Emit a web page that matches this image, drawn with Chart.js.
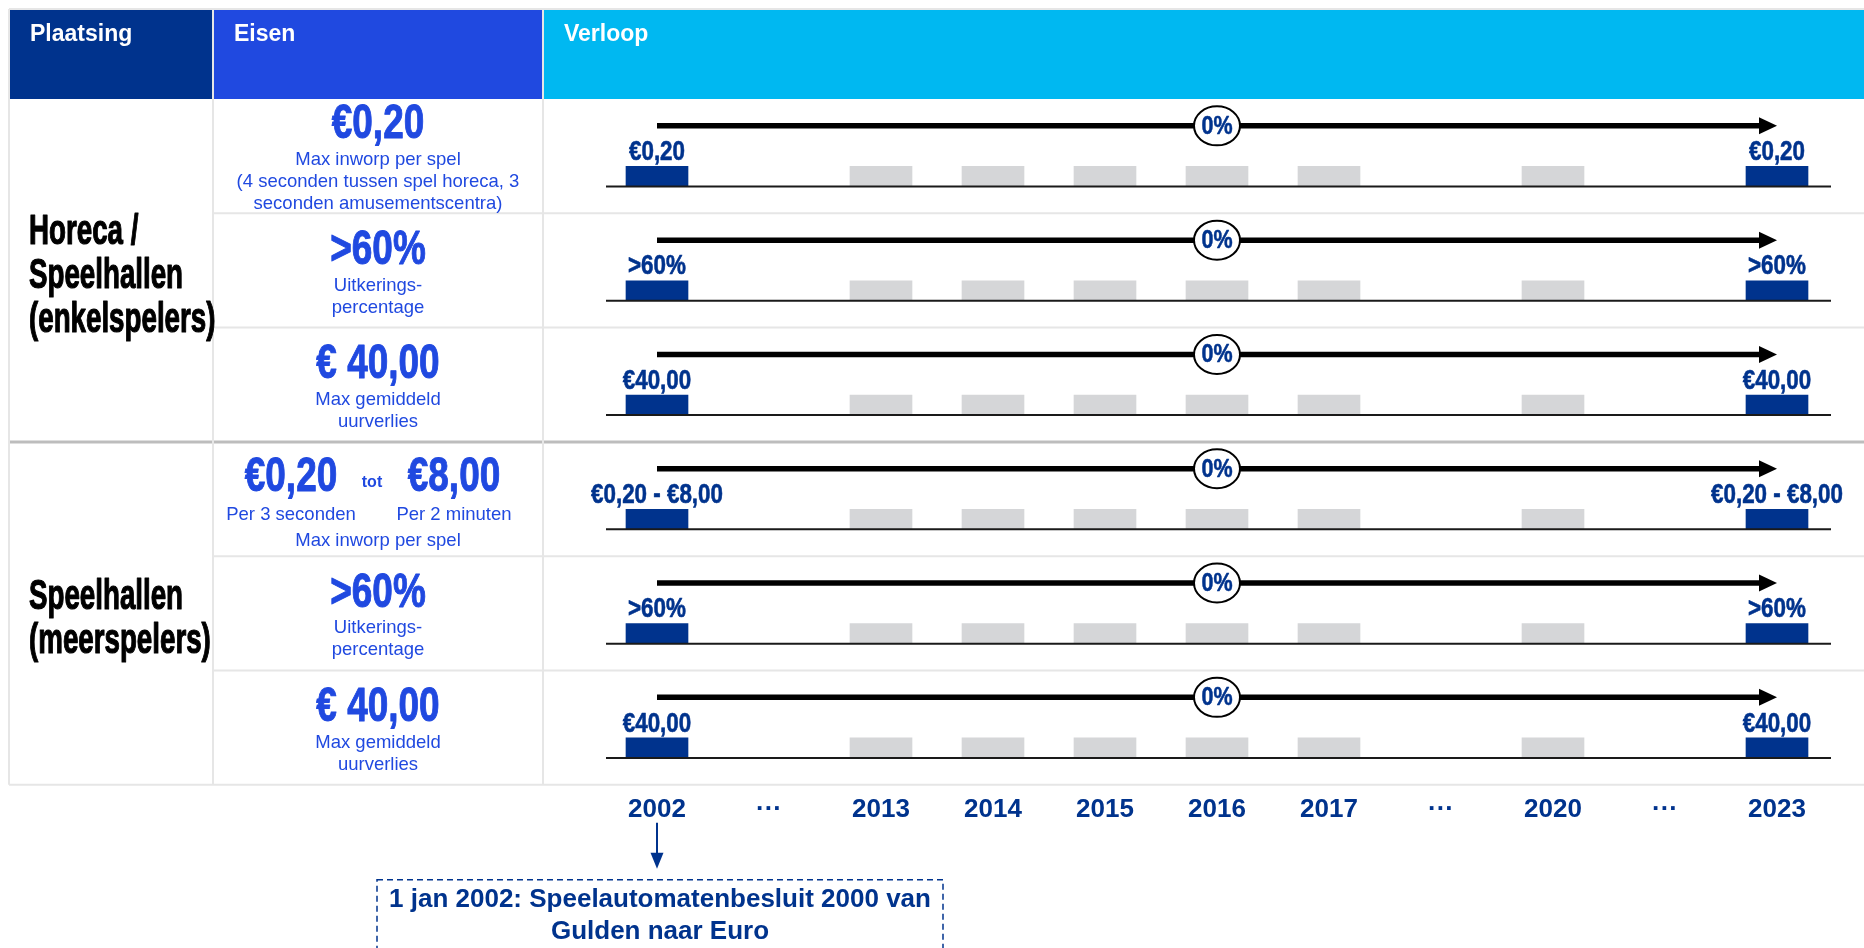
<!DOCTYPE html>
<html lang="nl">
<head>
<meta charset="utf-8">
<title>Speelautomaten - eisen en verloop</title>
<script src="https://cdn.jsdelivr.net/npm/chart.js@4.4.1/dist/chart.umd.min.js"></script>
<style>
  html, body { margin: 0; padding: 0; background: #fff; }
  canvas { display: block; }
</style>
</head>
<body>
<canvas id="chart" width="1864" height="948"></canvas>
<script>
// timeline slots ('…' = skipped years)
const slots = ['2002', '…', '2013', '2014', '2015', '2016', '2017', '…', '2020', '…', '2023'];
const highlightYears = ['2002', '2023'];
const changeYear = '2016';

const headers = ['Plaatsing', 'Eisen', 'Verloop'];
const groupLabels = [['Horeca /', 'Speelhallen', '(enkelspelers)'], ['Speelhallen', '(meerspelers)']];
const groupRows = [3, 3];

const reqValues = ['€0,20', '>60%', '€ 40,00', ['€0,20', '€8,00'], '>60%', '€ 40,00'];
const reqNotes = [
  ['Max inworp per spel', '(4 seconden tussen spel horeca, 3', 'seconden amusementscentra)'],
  ['Uitkerings-', 'percentage'],
  ['Max gemiddeld', 'uurverlies'],
  ['Max inworp per spel'],
  ['Uitkerings-', 'percentage'],
  ['Max gemiddeld', 'uurverlies']
];
const rangeNotes = ['Per 3 seconden', 'Per 2 minuten'];

const startLabels = ['€0,20', '>60%', '€40,00', '€0,20 - €8,00', '>60%', '€40,00'];
const endLabels = ['€0,20', '>60%', '€40,00', '€0,20 - €8,00', '>60%', '€40,00'];
const changePct = [0, 0, 0, 0, 0, 0];

const noteYear = '2002';
const noteLines = ['1 jan 2002: Speelautomatenbesluit 2000 van', 'Gulden naar Euro'];

// styling
const NAVY = '#00338D';
const BLUE = '#2049E0';
const CYAN = '#00B8F1';
const GRAY = '#D5D6D8';
const LINE = '#E6E6E6';
const SANS = '"Liberation Sans", Arial, sans-serif';
const COLS = [9, 213, 543, 1864];
const TABLE_TOP = 9;
const BASE_OFF = 0.765;
const BAR_H = 0.175;
const ARROW_OFF = 0.235;

// sx squeezes the text horizontally, heavy adds a thin outline for a bolder look
function txt(ctx, s, x, y, font, color, align = 'center', sx = 1, heavy = 0) {
  ctx.save();
  ctx.font = font;
  ctx.fillStyle = color;
  ctx.textAlign = align;
  ctx.textBaseline = 'middle';
  ctx.translate(x, y);
  ctx.scale(sx, 1);
  ctx.fillText(s, 0, 0);
  if (heavy) {
    ctx.strokeStyle = color;
    ctx.lineWidth = heavy;
    ctx.lineJoin = 'round';
    ctx.strokeText(s, 0, 0);
  }
  ctx.restore();
}

function hline(ctx, x1, x2, y, color, w) {
  ctx.beginPath();
  ctx.strokeStyle = color;
  ctx.lineWidth = w;
  ctx.moveTo(x1, y);
  ctx.lineTo(x2, y);
  ctx.stroke();
}

function vline(ctx, x, y1, y2, color, w) {
  ctx.beginPath();
  ctx.strokeStyle = color;
  ctx.lineWidth = w;
  ctx.moveTo(x, y1);
  ctx.lineTo(x, y2);
  ctx.stroke();
}

const tablePlugin = {
  id: 'table',
  beforeDraw(chart) {
    const { ctx, chartArea, scales: { y } } = chart;
    const top = chartArea.top;
    const bottom = chartArea.bottom;
    ctx.save();
    ctx.fillStyle = '#fff';
    ctx.fillRect(0, 0, chart.width, chart.height);

    // header
    [NAVY, BLUE, CYAN].forEach((c, i) => {
      ctx.fillStyle = c;
      ctx.fillRect(COLS[i], TABLE_TOP, COLS[i + 1] - COLS[i], top - TABLE_TOP);
      txt(ctx, headers[i], COLS[i] + 21, 35, `bold 23px ${SANS}`, '#fff', 'left');
    });

    // grid
    hline(ctx, COLS[0], COLS[3], TABLE_TOP, LINE, 2);
    for (let r = 1; r < 6; r++) {
      if (r === groupRows[0]) continue;
      hline(ctx, COLS[1], COLS[3], y.getPixelForValue(r), LINE, 2);
    }
    hline(ctx, COLS[0], COLS[3], y.getPixelForValue(groupRows[0]), '#BDBDBD', 3);
    hline(ctx, COLS[0], COLS[3], bottom, LINE, 2);
    [0, 1, 2].forEach((i) => vline(ctx, COLS[i], TABLE_TOP, bottom, LINE, 2));

    // left column: groups
    let start = 0;
    groupLabels.forEach((lines, g) => {
      const mid = (y.getPixelForValue(start) + y.getPixelForValue(start + groupRows[g])) / 2 + 6;
      lines.forEach((l, i) => {
        const ly = mid + (i - (lines.length - 1) / 2) * 44;
        txt(ctx, l, 29, ly, `bold 42px ${SANS}`, '#000', 'left', 0.66, 1.2);
      });
      start += groupRows[g];
    });

    // middle column: requirements
    const cx = (COLS[1] + COLS[2]) / 2;
    const big = `bold 48px ${SANS}`;
    const small = `18.5px ${SANS}`;
    reqValues.forEach((v, r) => {
      const rowTop = y.getPixelForValue(r);
      const notes = reqNotes[r];
      if (Array.isArray(v)) {
        const vy = rowTop + 36;
        txt(ctx, v[0], cx - 87, vy, big, BLUE, 'center', 0.77, 1);
        txt(ctx, 'tot', cx - 6, vy + 5, `bold 16px ${SANS}`, BLUE);
        txt(ctx, v[1], cx + 76, vy, big, BLUE, 'center', 0.77, 1);
        txt(ctx, rangeNotes[0], cx - 87, rowTop + 73, small, BLUE);
        txt(ctx, rangeNotes[1], cx + 76, rowTop + 73, small, BLUE);
        txt(ctx, notes[0], cx, rowTop + 99, small, BLUE);
        return;
      }
      const blockH = 68 + 22 * (notes.length - 1);
      const rowH = y.getPixelForValue(r + 1) - rowTop;
      const bt = rowTop + (rowH - blockH) / 2 + 2;
      txt(ctx, v, cx, bt + 23, big, BLUE, 'center', 0.77, 1);
      notes.forEach((n, i) => {
        txt(ctx, n, cx, bt + 58 + i * 22, small, BLUE);
      });
    });
    ctx.restore();
  },
  afterDatasetsDraw(chart) {
    const { ctx, chartArea, scales: { x, y } } = chart;
    ctx.save();
    const x0 = x.getPixelForValue(0);
    const xEnd = x.getPixelForValue(slots.length - 1);
    const xChange = x.getPixelForValue(slots.indexOf(changeYear));

    startLabels.forEach((lab, r) => {
      // baseline
      const by = y.getPixelForValue(r + BASE_OFF);
      hline(ctx, chartArea.left + 5, chartArea.right - 2, by, '#1a1a1a', 2);

      // labels above highlighted bars
      const meta = chart.getDatasetMeta(r);
      const ty = y.getPixelForValue(r + BASE_OFF - BAR_H) - 14;
      [[slots.indexOf(highlightYears[0]), lab], [slots.lastIndexOf(highlightYears[1]), endLabels[r]]].forEach(([i, t]) => {
        txt(ctx, t, meta.data[i].x, ty, `bold 28px ${SANS}`, NAVY, 'center', 0.8, 0.6);
      });

      // arrow
      const ay = y.getPixelForValue(r + ARROW_OFF);
      hline(ctx, x0, xEnd - 14, ay, '#000', 5.5);
      ctx.beginPath();
      ctx.fillStyle = '#000';
      ctx.moveTo(xEnd, ay);
      ctx.lineTo(xEnd - 18, ay - 8.5);
      ctx.lineTo(xEnd - 18, ay + 8.5);
      ctx.closePath();
      ctx.fill();

      // change bubble
      ctx.beginPath();
      ctx.ellipse(xChange, ay, 23, 19.5, 0, 0, Math.PI * 2);
      ctx.fillStyle = '#fff';
      ctx.fill();
      ctx.lineWidth = 2;
      ctx.strokeStyle = '#000';
      ctx.stroke();
      txt(ctx, changePct[r] + '%', xChange, ay + 1, `bold 25px ${SANS}`, NAVY, 'center', 0.86, 0.5);
    });

    // note for 2002
    const nx = x.getPixelForValue(slots.indexOf(noteYear));
    const top = chartArea.bottom + 38;
    vline(ctx, nx, top, top + 32, NAVY, 2);
    ctx.beginPath();
    ctx.fillStyle = NAVY;
    ctx.moveTo(nx, top + 46);
    ctx.lineTo(nx - 6.5, top + 30);
    ctx.lineTo(nx + 6.5, top + 30);
    ctx.closePath();
    ctx.fill();

    const boxTop = chartArea.bottom + 95;
    ctx.setLineDash([6, 4]);
    ctx.strokeStyle = NAVY;
    ctx.lineWidth = 1.5;
    ctx.strokeRect(nx - 280, boxTop, 566, 120);
    ctx.setLineDash([]);
    noteLines.forEach((l, i) => {
      txt(ctx, l, nx + 3, boxTop + 20 + i * 32, `bold 26px ${SANS}`, NAVY);
    });
    ctx.restore();
  }
};

const datasets = startLabels.map((_, r) => ({
  label: 'rij ' + (r + 1),
  data: slots.map((s) => (s === '…' ? null : [r + BASE_OFF, r + BASE_OFF - BAR_H])),
  backgroundColor: slots.map((s) => (highlightYears.includes(s) ? NAVY : GRAY)),
  barThickness: 62,
  grouped: false,
}));

new Chart(document.getElementById('chart'), {
  type: 'bar',
  data: { labels: slots, datasets },
  options: {
    responsive: false,
    animation: false,
    devicePixelRatio: 1,
    layout: { padding: { left: 601, right: 31, top: 99, bottom: 114 } },
    plugins: { legend: { display: false }, tooltip: { enabled: false } },
    scales: {
      x: {
        type: 'category',
        offset: true,
        grid: { display: false, drawTicks: false },
        border: { display: false },
        ticks: {
          color: NAVY,
          font: { family: SANS, size: 26, weight: 'bold' },
          padding: 9,
          autoSkip: false,
          maxRotation: 0,
          callback: (v, i) => (slots[i] === '…' ? '···' : slots[i]),
        },
      },
      y: { display: false, min: 0, max: 6, reverse: true },
    },
  },
  plugins: [tablePlugin],
});
</script>
</body>
</html>
